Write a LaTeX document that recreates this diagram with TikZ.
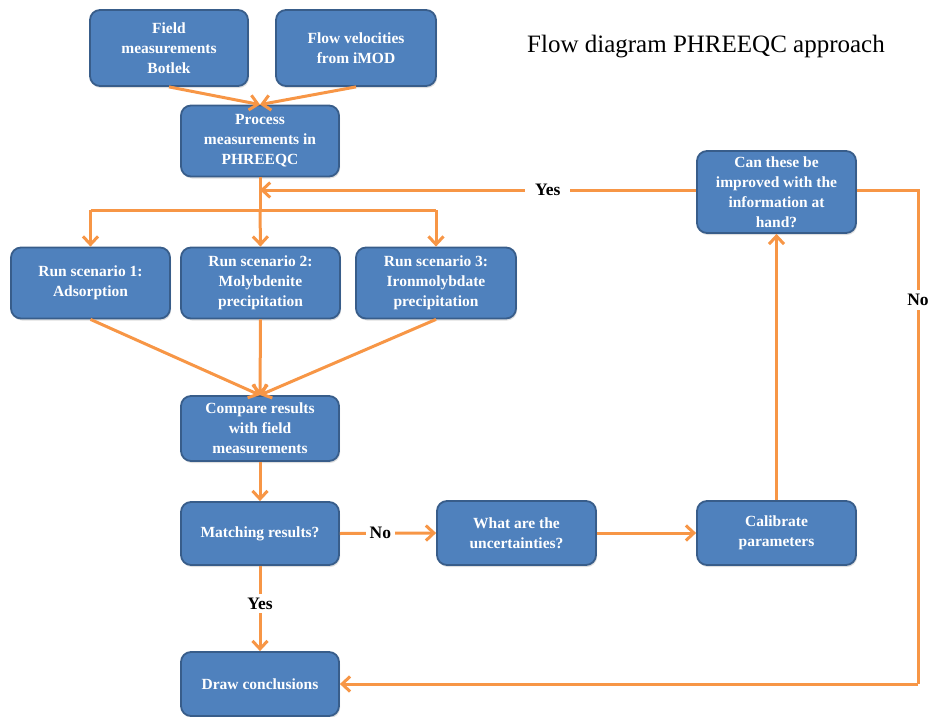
\documentclass[tikz,border=0pt]{standalone}
\usepackage{fontspec}
\setmainfont{Liberation Serif}
\usetikzlibrary{arrows.meta,shadows}
\definecolor{boxblue}{HTML}{4F81BD}
\definecolor{boxedge}{HTML}{385D8A}
\definecolor{arrorange}{HTML}{F79646}
\begin{document}
\begin{tikzpicture}[x=1pt,y=-1pt,
  box/.style={draw=boxedge, line width=1.8pt, fill=boxblue, rounded corners=10pt,
    text=white, font=\fontsize{15.5}{20}\selectfont\bfseries, align=center,
    minimum width=158pt, inner sep=1pt,
    drop shadow={opacity=0.25, shadow xshift=1pt, shadow yshift=-2pt}},
  arr/.style={draw=arrorange, line width=3pt, -{Straight Barb[length=8pt,width=15pt,line width=3pt]}},
  ln/.style={draw=arrorange, line width=3pt},
  lbl/.style={fill=white, text=black, font=\fontsize{17.5}{19}\selectfont\bfseries, inner sep=4pt}]
\useasboundingbox (0,0) rectangle (934,717);

\node[box, minimum height=76pt] (field) at (169,48) {Field\\measurements\\Botlek};
\node[box, minimum height=76pt, minimum width=160pt] (flow) at (356,48) {Flow velocities\\from iMOD};
\node[box, minimum height=71pt] (proc) at (260,141) {Process\\measurements in\\PHREEQC};
\node[box, minimum height=71pt, minimum width=159pt] (run1) at (90.5,283) {Run scenario 1:\\Adsorption};
\node[box, minimum height=71pt, minimum width=159pt] (run2) at (260.5,283) {Run scenario 2:\\Molybdenite\\precipitation};
\node[box, minimum height=71pt, minimum width=160pt] (run3) at (436,283) {Run scenario 3:\\Ironmolybdate\\precipitation};
\node[box, minimum height=65pt] (comp) at (260,428.5) {Compare results\\with field\\measurements};
\node[box, minimum height=63pt] (match) at (260,533.5) {Matching results?};
\node[box, minimum height=64pt, minimum width=159pt] (unc) at (516.5,533) {What are the\\uncertainties?};
\node[box, minimum height=64pt, minimum width=159pt] (cal) at (776.5,533) {Calibrate\\parameters};
\node[box, minimum height=82pt, minimum width=159pt] (can) at (776.5,192) {Can these be\\improved with the\\information at\\hand?};
\node[box, minimum height=64pt] (draw) at (260,684) {Draw conclusions};

\node[font=\fontsize{25}{29}\selectfont] (title) at (706,47) {Flow diagram PHREEQC approach};

% top inputs
\draw[arr] (field.south) -- (proc.north);
\draw[arr] (flow.south) -- (proc.north);

% split to scenarios
\coordinate (split) at (proc.south |- 0,210);
\coordinate (yesend) at (proc.south |- 0,190);
\draw[ln] (proc.south) -- (split);
\draw[ln] (run1.north |- split) -- (run3.north |- split);
\draw[arr] (run1.north |- split) -- (run1.north);
\draw[arr] (split) -- (run2.north);
\draw[arr] (run3.north |- split) -- (run3.north);

% scenarios to compare
\draw[arr] (run1.south) -- (comp.north);
\draw[arr] (run2.south) -- (comp.north);
\draw[arr] (run3.south) -- (comp.north);

\draw[arr] (comp.south) -- (match.north);
\draw[arr] (match.east) -- node[lbl, pos=0.42] (no1) {No} (unc.west);
\draw[arr] (unc.east) -- (cal.west);
\draw[arr] (cal.north) -- (can.south);
\draw[arr] (match.south) -- node[lbl, pos=0.44] (yes1) {Yes} (draw.north);

% yes back to process
\draw[arr] (can.west |- yesend) -- node[lbl, pos=0.34, inner xsep=10pt] (yes2) {Yes} (yesend);

% no to draw conclusions
\coordinate (c1) at (918,190);
\coordinate (c2) at (918,684);
\draw[ln] (can.east |- c1) -- (c1) -- (c2);
\node[lbl] (no2) at (918,300) {No};
\draw[arr] (c2) -- (draw.east);
\end{tikzpicture}
\end{document}
